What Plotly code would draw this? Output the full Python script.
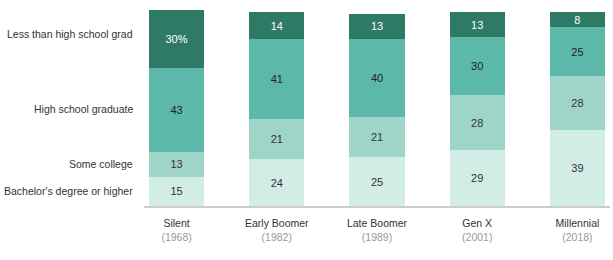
import plotly.graph_objects as go

generations = ["Silent", "Early Boomer", "Late Boomer", "Gen X", "Millennial"]
years = ["(1968)", "(1982)", "(1989)", "(2001)", "(2018)"]
bachelor = [15, 24, 25, 29, 39]
some_college = [13, 21, 21, 28, 28]
hs_grad = [43, 41, 40, 30, 25]
less_hs = [30, 14, 13, 13, 8]

series = [
    ("Bachelor's degree or higher", bachelor, "#d2ece6", "#333333"),
    ("Some college", some_college, "#9fd5c9", "#333333"),
    ("High school graduate", hs_grad, "#5cb8a8", "#222222"),
    ("Less than high school grad", less_hs, "#2e7a66", "#ffffff"),
]
label_shift = [0, 0, 1, 5]

x = list(range(len(generations)))
fig = go.Figure()
for name, vals, color, tcol in series:
    texts = [str(v) for v in vals]
    if name == "Less than high school grad":
        texts[0] = f"{vals[0]}%"
    fig.add_trace(go.Bar(
        x=x, y=vals, name=name, marker=dict(color=color, line=dict(width=0)),
        width=0.55, text=texts, textposition="inside", insidetextanchor="middle",
        textfont=dict(color=tcol, size=11, family="Liberation Sans"),
        textangle=0, constraintext="none",
    ))

# left-side labels aligned with the first bar segments
cum = 0
for (name, vals, color, tcol), ys in zip(series, label_shift):
    center = cum + vals[0] / 2
    cum += vals[0]
    fig.add_annotation(
        x=0, xref="paper", xshift=-9, y=center, yref="y", yshift=ys, text=name,
        showarrow=False, xanchor="right", yanchor="middle",
        font=dict(size=10.5, color="#333333", family="Liberation Sans"),
    )

ticktext = [f"{g}<br><span style='color:#999999'>{yr}</span>" for g, yr in zip(generations, years)]

fig.update_layout(
    barmode="stack", width=613, height=260,
    margin=dict(l=144, r=3, t=10, b=54),
    plot_bgcolor="white", paper_bgcolor="white", showlegend=False,
    font=dict(family="Liberation Sans", size=11, color="#333333"),
    uniformtext=dict(minsize=8, mode="show"),
)
fig.update_xaxes(
    range=[-0.325, 4.325], tickvals=x, ticktext=ticktext, showgrid=False,
    zeroline=False, showline=True, linecolor="#cccccc", linewidth=1.5,
    ticks="", ticklabelstandoff=7, tickfont=dict(size=10.5, color="#333333"),
    fixedrange=True,
)
fig.update_yaxes(range=[0, 101], visible=False, showgrid=False, fixedrange=True)

fig.write_html("out.html")
